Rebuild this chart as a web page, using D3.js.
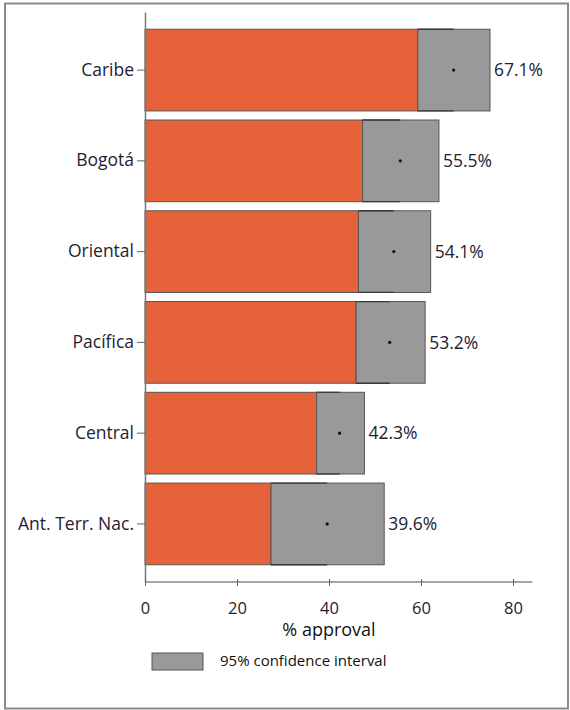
<!DOCTYPE html>
<html>
<head>
<meta charset="utf-8">
<script src="https://cdn.jsdelivr.net/npm/d3@7"></script>
<style>
  body { margin: 0; background: #fff; }
  text { font-family: "Open Sans", "Noto Sans", sans-serif; }
</style>
</head>
<body>
<svg id="svg1" width="570" height="710"></svg>
<script>
// data
var regions = ["Caribe", "Bogotá", "Oriental", "Pacífica", "Central", "Ant. Terr. Nac."];
var approval = [67.1, 55.5, 54.1, 53.2, 42.3, 39.6];
var ciLow = [59.3, 47.3, 46.4, 45.9, 37.3, 27.4];
var ciHigh = [75.0, 63.9, 62.1, 60.9, 47.7, 52.0];
var xTicks = [0, 20, 40, 60, 80];

var data = regions.map(function(r, i) {
  return { region: r, value: approval[i], lo: ciLow[i], hi: ciHigh[i] };
});

var svg = d3.select("#svg1");

// outer frame
svg.append("rect")
   .attr("x", 5).attr("y", 3.5)
   .attr("width", 563).attr("height", 705)
   .attr("fill", "none")
   .attr("stroke", "#8a8a8a")
   .attr("stroke-width", 2);

var scaleX = d3.scaleLinear().domain([0, 80]).range([145, 513]);
var scaleY = d3.scaleBand().domain(regions).range([12, 582])
               .paddingInner(0.1).paddingOuter(0.19);

var orange = "#e5623a";
var gray = "#999999";
var edge = "#555555";
var ink = "#1e2233";

// bars from 0 to the lower CI bound
svg.selectAll(".bar")
   .data(data)
   .enter()
   .append("rect")
   .attr("class", "bar")
   .attr("x", scaleX(0))
   .attr("y", function(d) { return scaleY(d.region); })
   .attr("width", function(d) { return scaleX(d.lo) - scaleX(0); })
   .attr("height", scaleY.bandwidth())
   .attr("fill", orange)
   .attr("stroke", edge)
   .attr("stroke-width", 1);

// confidence interval boxes
svg.selectAll(".ci")
   .data(data)
   .enter()
   .append("rect")
   .attr("class", "ci")
   .attr("x", function(d) { return scaleX(d.lo); })
   .attr("y", function(d) { return scaleY(d.region); })
   .attr("width", function(d) { return scaleX(d.hi) - scaleX(d.lo); })
   .attr("height", scaleY.bandwidth())
   .attr("fill", gray)
   .attr("stroke", edge)
   .attr("stroke-width", 1);

// darker bar outline that runs under the box up to the estimate
data.forEach(function(d) {
  [0, scaleY.bandwidth()].forEach(function(off) {
    svg.append("line")
       .attr("x1", scaleX(d.lo)).attr("x2", scaleX(d.value))
       .attr("y1", scaleY(d.region) + off).attr("y2", scaleY(d.region) + off)
       .attr("stroke", "#3a3a3a")
       .attr("stroke-width", 1.3);
  });
});

// point estimates
svg.selectAll(".dot")
   .data(data)
   .enter()
   .append("circle")
   .attr("class", "dot")
   .attr("cx", function(d) { return scaleX(d.value); })
   .attr("cy", function(d) { return scaleY(d.region) + scaleY.bandwidth() / 2; })
   .attr("r", 1.6)
   .attr("fill", "#111");

// value labels
svg.selectAll(".val")
   .data(data)
   .enter()
   .append("text")
   .attr("class", "val")
   .attr("x", function(d) { return scaleX(d.hi) + 4; })
   .attr("y", function(d) { return scaleY(d.region) + scaleY.bandwidth() / 2; })
   .attr("dy", "0.35em")
   .attr("font-size", 17.5)
   .attr("fill", ink)
   .text(function(d) { return d.value.toFixed(1) + "%"; });

// y axis
var yAxis = svg.append("g")
   .attr("transform", "translate(" + scaleX(0) + ",0)")
   .call(d3.axisLeft(scaleY).tickSize(8).tickSizeOuter(0).tickPadding(3));
yAxis.select(".domain").attr("stroke", "#777").attr("stroke-width", 1.5);
yAxis.selectAll(".tick line").attr("stroke", "#666");
yAxis.selectAll(".tick text").attr("font-size", 17.5).attr("fill", ink);

// x axis
var xAxis = svg.append("g")
   .attr("transform", "translate(0," + 582 + ")")
   .call(d3.axisBottom(scaleX).tickValues(xTicks).tickSize(4).tickSizeOuter(0).tickPadding(16));
xAxis.select(".domain")
     .attr("d", "M" + scaleX(0) + ",0H" + scaleX(84.2))
     .attr("stroke", "#888").attr("stroke-width", 1.5);
xAxis.selectAll(".tick line").attr("stroke", "#666").attr("y1", -3);
xAxis.selectAll(".tick text").attr("font-size", 16.5).attr("fill", ink);

svg.append("text")
   .attr("x", scaleX(40))
   .attr("y", 636)
   .attr("text-anchor", "middle")
   .attr("font-size", 18)
   .attr("fill", "#111")
   .text("% approval");

// legend
svg.append("rect")
   .attr("x", 152).attr("y", 653)
   .attr("width", 51).attr("height", 17)
   .attr("fill", gray)
   .attr("stroke", edge);
svg.append("text")
   .attr("x", 220).attr("y", 661)
   .attr("dy", "0.35em")
   .attr("font-size", 15)
   .attr("fill", "#111")
   .text("95% confidence interval");
</script>
</body>
</html>
